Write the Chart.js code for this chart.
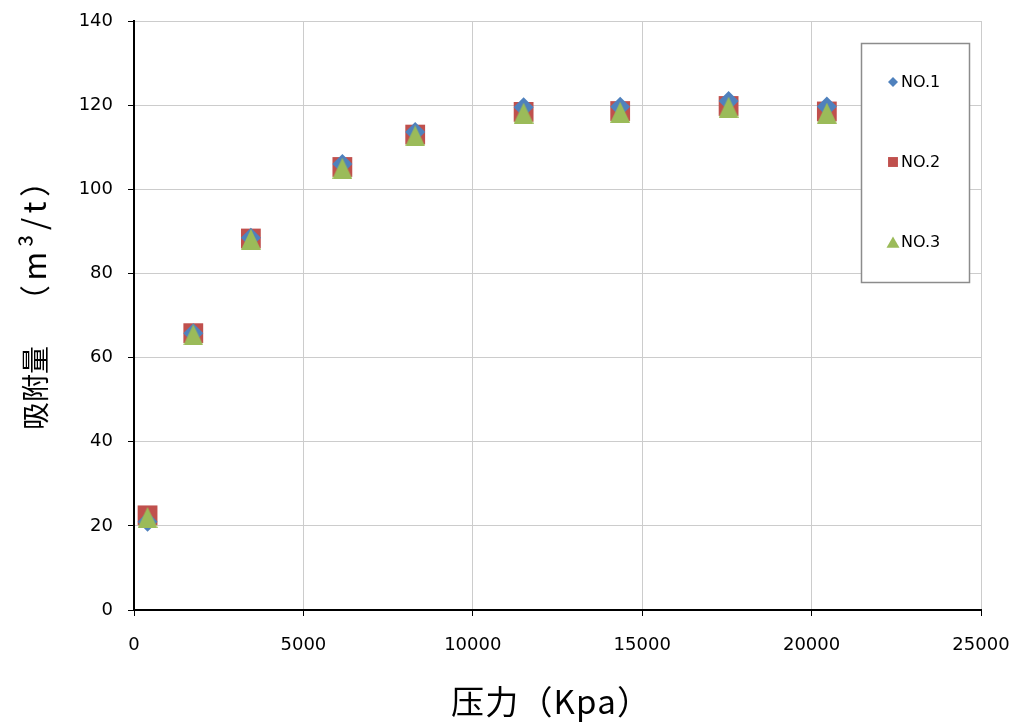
<!DOCTYPE html>
<html>
<head>
<meta charset="utf-8">
<script src="https://cdn.jsdelivr.net/npm/chart.js@4/dist/chart.umd.min.js"></script>
<style>
  html, body { margin: 0; padding: 0; background: #ffffff; }
  canvas { display: block; }
</style>
</head>
<body>
<canvas id="chart" width="1009" height="722"></canvas>
<script>
// Adsorption isotherm data: pressure (Kpa) vs adsorbed volume (m3/t)
const pressure = [400, 1750, 3450, 6150, 8300, 11500, 14350, 17550, 20450];
const no1 = [21.0, 65.8, 88.5, 106.0, 113.6, 119.5, 119.6, 121.0, 119.7];
const no2 = [22.5, 65.8, 88.3, 105.3, 113.0, 118.4, 118.6, 119.8, 118.5];
const no3 = [22.0, 65.4, 88.1, 105.0, 112.7, 118.1, 118.3, 119.5, 118.1];
const seriesNames = ['NO.1', 'NO.2', 'NO.3'];
const xTicks = [0, 5000, 10000, 15000, 20000, 25000];
const yTicks = [0, 20, 40, 60, 80, 100, 120, 140];
const xTitle = '压力（Kpa）';
const yTitleParts = ['吸附量', '（m³/t）'];

const BLUE = '#4F81BD';
const RED = '#C0504D';
const GREEN = '#9BBB59';
const TITLE_FAMILY = '"Noto Sans CJK SC", sans-serif';

// Tall isosceles triangle marker
function triangleImage(w, h, color) {
  const c = document.createElement('canvas');
  c.width = w; c.height = h;
  const g = c.getContext('2d');
  g.fillStyle = color;
  g.beginPath();
  g.moveTo(w / 2, 0);
  g.lineTo(w, h);
  g.lineTo(0, h);
  g.closePath();
  g.fill();
  return c;
}

function toPoints(ys) {
  return pressure.map((x, i) => ({ x: x, y: ys[i] }));
}

// Draws text so that its ink runs from `start` to `end` along the baseline,
// spreading the glyphs with letter spacing; `mid` is the ink centre across it.
function spreadText(ctx, text, start, end, mid) {
  ctx.letterSpacing = '0px';
  ctx.textAlign = 'left';
  ctx.textBaseline = 'alphabetic';
  const m0 = ctx.measureText(text);
  const ink0 = m0.actualBoundingBoxLeft + m0.actualBoundingBoxRight;
  const n = Array.from(text).length;
  const s = n > 1 ? Math.max(0, (end - start - ink0) / (n - 1)) : 0;
  ctx.letterSpacing = s.toFixed(2) + 'px';
  const m = ctx.measureText(text);
  const baseY = mid + (m.actualBoundingBoxAscent - m.actualBoundingBoxDescent) / 2;
  ctx.fillText(text, start + m.actualBoundingBoxLeft, baseY);
  ctx.letterSpacing = '0px';
}

// Axis titles
const axisTitles = {
  id: 'axisTitles',
  afterDraw(chart) {
    const ctx = chart.ctx;
    ctx.save();
    ctx.fillStyle = '#000000';
    ctx.font = '33px ' + TITLE_FAMILY;
    spreadText(ctx, xTitle, 452, 628, 703);

    ctx.translate(35, 0);
    ctx.rotate(-Math.PI / 2);
    // rotated frame: x' = -y, centre line at y' = 0
    ctx.font = '28px ' + TITLE_FAMILY;
    spreadText(ctx, yTitleParts[0], -428, -347, 0);
    ctx.font = '31px ' + TITLE_FAMILY;
    spreadText(ctx, yTitleParts[1], -295, -187, 0);
    ctx.restore();
  }
};

// Boxed legend on the right, items spread vertically
const boxLegend = {
  id: 'boxLegend',
  afterDatasetsDraw(chart) {
    const ctx = chart.ctx;
    const L = 861, T = 43, R = 970, B = 283;
    ctx.save();
    ctx.fillStyle = '#ffffff';
    ctx.fillRect(L, T, R - L, B - T);
    ctx.strokeStyle = '#8c8c8c';
    ctx.lineWidth = 1.5;
    ctx.strokeRect(L + 0.5, T + 0.5, R - L - 1, B - T - 1);
    const marks = [
      { pointStyle: 'rectRot', radius: 5, rotation: 0, borderWidth: 0 },
      { pointStyle: 'rect', radius: 7, rotation: 0, borderWidth: 0 },
      { pointStyle: 'triangle', radius: 7.5, rotation: 0, borderWidth: 0 }
    ];
    const rows = [82, 162, 242];
    chart.data.datasets.forEach((ds, i) => {
      ctx.fillStyle = ds.legendColor;
      ctx.strokeStyle = ds.legendColor;
      const yy = i === 2 ? rows[i] + 2 : rows[i];
      Chart.helpers.drawPoint(ctx, marks[i], 893, yy);
      ctx.fillStyle = '#000000';
      ctx.font = '16px "DejaVu Sans", sans-serif';
      ctx.textAlign = 'left';
      ctx.textBaseline = 'middle';
      ctx.fillText(ds.label, 901, rows[i] + 1);
    });
    ctx.restore();
  }
};

const tickFont = { family: '"DejaVu Sans", sans-serif', size: 18 };

new Chart(document.getElementById('chart'), {
  type: 'scatter',
  data: {
    datasets: [
      {
        label: seriesNames[0],
        data: toPoints(no1),
        pointStyle: 'rectRot',
        pointRadius: 10,
        pointHoverRadius: 10,
        pointBorderWidth: 0,
        backgroundColor: BLUE,
        borderColor: BLUE,
        legendColor: BLUE,
        order: 1
      },
      {
        label: seriesNames[1],
        data: toPoints(no2),
        pointStyle: 'rect',
        pointRadius: 14,
        pointHoverRadius: 14,
        pointBorderWidth: 0,
        backgroundColor: RED,
        borderColor: RED,
        legendColor: RED,
        order: 2
      },
      {
        label: seriesNames[2],
        data: toPoints(no3),
        pointStyle: triangleImage(20, 21, GREEN),
        pointRadius: 10,
        pointHoverRadius: 10,
        pointBorderWidth: 0,
        backgroundColor: GREEN,
        borderColor: GREEN,
        legendColor: GREEN,
        order: 0
      }
    ]
  },
  options: {
    responsive: false,
    animation: false,
    devicePixelRatio: 1,
    layout: { padding: { left: 0, top: 21, right: 28, bottom: 0 } },
    plugins: {
      legend: { display: false },
      tooltip: { enabled: false }
    },
    scales: {
      x: {
        type: 'linear',
        min: 0,
        max: 25000,
        afterBuildTicks(scale) { scale.ticks = xTicks.map(v => ({ value: v })); },
        afterFit(scale) {
          scale.height = 112;
          scale.paddingLeft = 0;
          scale.paddingRight = 0;
        },
        ticks: {
          font: tickFont,
          color: '#000000',
          padding: 19,
          maxRotation: 0,
          callback: v => String(v)
        },
        grid: {
          color: '#cccccc',
          lineWidth: 1,
          tickColor: '#000000',
          tickLength: 6
        },
        border: { color: '#000000', width: 2 }
      },
      y: {
        type: 'linear',
        min: 0,
        max: 140,
        afterBuildTicks(scale) { scale.ticks = yTicks.map(v => ({ value: v })); },
        afterFit(scale) {
          scale.width = 134;
          scale.paddingTop = 0;
          scale.paddingBottom = 0;
        },
        ticks: {
          font: tickFont,
          color: '#000000',
          padding: 15,
          callback: v => String(v)
        },
        grid: {
          color: '#cccccc',
          lineWidth: 1,
          tickColor: '#000000',
          tickLength: 6
        },
        border: { color: '#000000', width: 2 }
      }
    }
  },
  plugins: [boxLegend, axisTitles]
});
</script>
</body>
</html>
